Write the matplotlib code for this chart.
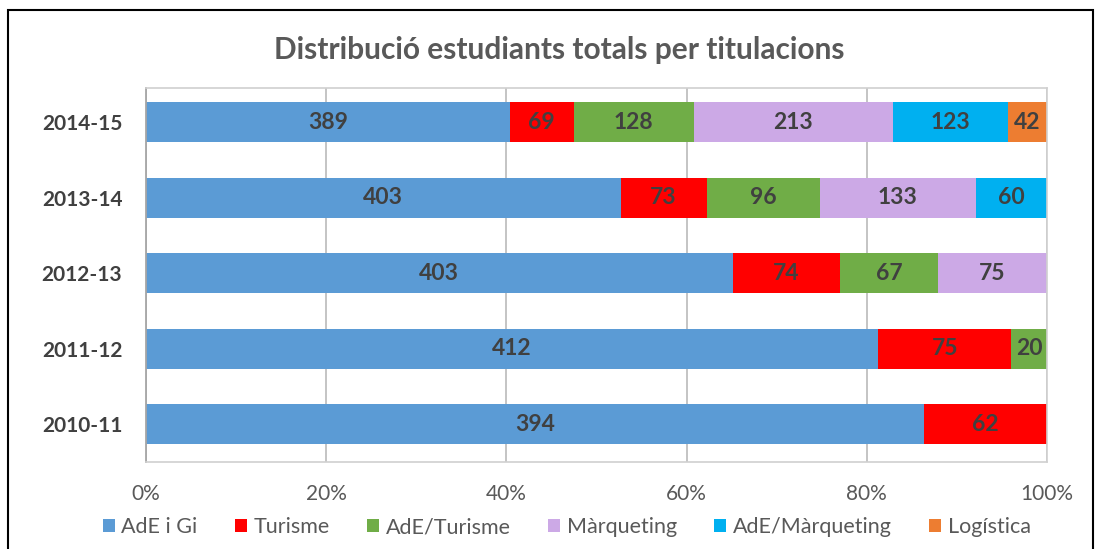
import numpy as np
import matplotlib.pyplot as plt
from matplotlib.patches import Rectangle

plt.rcParams['font.family'] = ['Lato', 'DejaVu Sans']

# data, bottom row first
years = ['2010-11', '2011-12', '2012-13', '2013-14', '2014-15']
series = ['AdE i Gi', 'Turisme', 'AdE/Turisme', 'Màrqueting', 'AdE/Màrqueting', 'Logística']
ade_gi = [394, 412, 403, 403, 389]
turisme = [62, 75, 74, 73, 69]
ade_turisme = [0, 20, 67, 96, 128]
marqueting = [0, 0, 75, 133, 213]
ade_marqueting = [0, 0, 0, 60, 123]
logistica = [0, 0, 0, 0, 42]

colors = ['#5B9BD5', '#FF0000', '#70AD47', '#CCA9E6', '#00B0F0', '#ED7D31']

values = np.array([ade_gi, turisme, ade_turisme, marqueting, ade_marqueting, logistica], dtype=float)
totals = values.sum(axis=0)
shares = values / totals * 100

fig = plt.figure(figsize=(11, 5.49), dpi=100)
ax = fig.add_axes([0.1327, 0.1585, 0.8191, 0.6812])

y = np.arange(len(years))
left = np.zeros(len(years))
for i, name in enumerate(series):
    ax.barh(y, shares[i], left=left, height=0.53, color=colors[i], label=name, zorder=2)
    for j in range(len(years)):
        if values[i, j] > 0:
            ax.text(left[j] + shares[i, j] / 2, y[j], f'{int(values[i, j])}',
                    ha='center', va='center', fontsize=16.5, fontweight='bold',
                    color='#404040', zorder=3)
    left += shares[i]

ax.set_xlim(0, 100)
ax.set_ylim(-0.5, 4.45)
ax.set_xticks([0, 20, 40, 60, 80, 100])
ax.set_xticklabels(['0%', '20%', '40%', '60%', '80%', '100%'])
ax.set_yticks(y)
ax.set_yticklabels(years, fontweight='bold')
ax.tick_params(axis='x', length=0, pad=16, labelsize=15, labelcolor='#595959')
ax.tick_params(axis='y', length=0, pad=17, labelsize=15, labelcolor='#404040')
ax.grid(axis='x', color='#BFBFBF', linewidth=1.3, zorder=0)
ax.set_axisbelow(True)
for side in ['top', 'right', 'bottom']:
    ax.spines[side].set_color('#D0D0D0')
    ax.spines[side].set_linewidth(1.2)
ax.spines['left'].set_color('#A6A6A6')
ax.spines['left'].set_linewidth(1.3)

fig.suptitle('Distribució estudiants totals per titulacions', x=0.508, y=0.935,
             fontsize=21.5, fontweight='bold', color='#595959')

ax.legend(loc='upper center', bbox_to_anchor=(0.467, -0.125), ncol=6, frameon=False,
          fontsize=15.5, labelcolor='#595959', handlelength=0.55, handleheight=0.55,
          handletextpad=0.3, columnspacing=1.75, borderaxespad=0)

fig.patches.append(Rectangle((8 / 1100, -0.1), 1085 / 1100, 1.1 - 10 / 549,
                             transform=fig.transFigure, fill=False,
                             edgecolor='black', linewidth=1.5))

fig.savefig('out.png', dpi=100)
